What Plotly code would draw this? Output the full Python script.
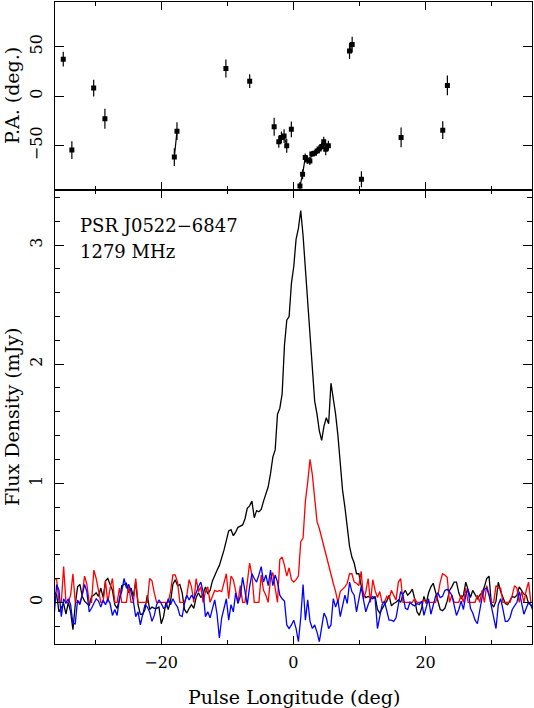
import plotly.graph_objects as go

# ---------------- data ----------------
LON0 = -36.15      # longitude of first profile bin (deg)
LON_STEP = 0.3516  # bin width (deg)

total_I = [
    0.09, 0.06, -0.08, -0.05, -0.01, -0.10, 0.00, -0.08, -0.23, -0.02,
    0.13, 0.15, 0.05, 0.01, -0.01, -0.03, 0.05, 0.06, 0.08, 0.05,
    0.12, 0.04, 0.18, 0.20, 0.15, 0.10, -0.02, -0.05, 0.02, 0.14,
    0.15, 0.16, 0.08, 0.12, 0.05, 0.17, -0.02, -0.10, -0.10, -0.06,
    0.06, -0.06, -0.04, -0.05, -0.05, -0.04, -0.18, -0.12, 0.00, -0.06,
    0.01, 0.15, 0.19, 0.14, 0.15, 0.08, -0.06, -0.09, -0.05, -0.02,
    -0.05, 0.04, 0.08, 0.04, 0.07,
    0.13, 0.07, 0.10, 0.18, 0.23, 0.27, 0.31, 0.37, 0.44, 0.52,
    0.60, 0.61, 0.56, 0.59, 0.63, 0.64, 0.65, 0.70, 0.79, 0.81,
    0.85, 0.71, 0.77, 0.76, 0.78, 0.85, 0.91, 0.97, 1.08, 1.22,
    1.28, 1.58, 1.63, 1.75, 2.16, 2.37, 2.40, 2.68, 2.82, 3.05,
    3.14, 3.29, 3.08, 2.80, 2.45, 2.22, 1.90, 1.69, 1.58, 1.44,
    1.36, 1.48, 1.55, 1.50, 1.84, 1.71, 1.58, 1.40, 1.16, 0.94,
    0.80, 0.65, 0.47, 0.38, 0.33, 0.24, 0.24, 0.14, 0.07, 0.04,
    0.05, 0.04, 0.03, 0.05,
    -0.06, -0.09, -0.05, -0.02, 0.01, 0.06, -0.03, -0.01, 0.00, 0.02,
    0.00, 0.07, 0.10, 0.06, 0.08, 0.11, 0.03, -0.08, -0.11, -0.05,
    0.05, -0.01, 0.08, 0.13, 0.16, 0.08, 0.01, -0.06, -0.07, -0.05,
    0.01, 0.10, 0.13, 0.17, 0.17, 0.08, 0.03, 0.06, 0.17, 0.11,
    0.04, 0.10, 0.06, 0.03, 0.06, 0.08, 0.13, 0.20, 0.22, -0.01,
    -0.04, 0.01, 0.17, 0.09, 0.04, -0.01, -0.02, 0.02, 0.05, 0.04,
    0.06, 0.13, 0.10, 0.07, 0.06, -0.01, -0.02, -0.06,
]

linear_L = [
    0.20, 0.19, 0.00, 0.00, 0.30, 0.00, 0.00, 0.06, 0.24, 0.00,
    0.00, 0.00, 0.06, 0.22, 0.15, 0.00, 0.00, 0.27, 0.20, 0.10,
    0.00, 0.00, 0.18, 0.00, 0.12, 0.20, 0.00, 0.00, 0.12, 0.00,
    0.00, 0.00, 0.14, 0.00, 0.00, 0.20, 0.00, 0.00, 0.00, 0.00,
    0.00, 0.20, 0.18, 0.08, 0.00, 0.00, 0.00, 0.00, 0.00, 0.00,
    0.09, 0.23, 0.23, 0.17, 0.00, 0.00, 0.00, 0.06, 0.19, 0.13,
    0.00, 0.20, 0.09, 0.13, 0.00,
    0.09, 0.13, 0.00, 0.06, 0.10, 0.09, 0.10, 0.09, 0.17, 0.24,
    0.03, 0.22, 0.19, 0.09, 0.00, 0.14, 0.00, 0.00, 0.17, 0.33,
    0.23, 0.00, 0.00, 0.00, 0.23, 0.10, 0.06, 0.00, 0.20, 0.25,
    0.12, 0.00, 0.36, 0.38, 0.31, 0.22, 0.29, 0.19, 0.17, 0.19,
    0.22, 0.51, 0.54, 0.85, 1.01, 1.20, 1.07, 0.85, 0.68, 0.62,
    0.54, 0.47, 0.40, 0.31, 0.23, 0.16, 0.09, 0.00, 0.09, 0.11,
    0.13, 0.16, 0.24, 0.24, 0.17, 0.16, 0.14, 0.26, 0.03, 0.09,
    0.20, 0.00, 0.19, 0.10,
    0.04, 0.09, 0.00, 0.00, 0.05, 0.03, 0.10, 0.06, 0.02, 0.17,
    0.20, 0.00, 0.00, 0.00, 0.00, 0.00, 0.03, 0.00, 0.00, 0.00,
    0.02, 0.00, 0.00, 0.00, 0.00, 0.00, 0.06, 0.17, 0.24, 0.23,
    0.21, 0.00, 0.06, 0.00, 0.00, 0.00, 0.06, 0.00, 0.12, 0.00,
    0.00, 0.00, 0.00, 0.06, 0.00, 0.10, 0.00, 0.14, 0.06, 0.00,
    0.00, 0.14, 0.12, 0.12, 0.00, 0.00, 0.00, 0.00, 0.06, 0.14,
    0.12, 0.00, 0.09, 0.00, 0.10, 0.17, 0.00, 0.00,
]

circular_V = [
    -0.09, 0.15, 0.10, -0.12, 0.03, -0.01, 0.03, -0.02, -0.18, -0.18,
    0.02, -0.02, 0.06, 0.15, 0.09, -0.08, -0.05, -0.01, 0.03, 0.01,
    -0.04, 0.02, -0.02, 0.03, -0.01, -0.11, -0.06, -0.11, 0.03, 0.09,
    0.20, 0.12, 0.15, 0.09, 0.01, -0.12, -0.08, -0.19, -0.11, -0.02,
    -0.04, -0.08, -0.16, -0.11, -0.02, 0.02, -0.01, -0.05, -0.04, 0.03,
    -0.02, 0.03, -0.01, -0.04, -0.11, -0.12, -0.01, 0.06, 0.02, 0.06,
    0.03, 0.09, 0.13, 0.17, 0.09,
    -0.12, -0.08, -0.13, -0.05, 0.02, -0.10, -0.30, -0.13, -0.05, 0.03,
    -0.15, -0.02, -0.08, 0.08, -0.01, 0.05, 0.21, 0.09, -0.02, 0.13,
    0.24, 0.20, 0.17, 0.23, 0.30, 0.17, 0.23, 0.14, 0.27, 0.14,
    0.23, 0.17, 0.06, 0.03, 0.01, -0.19, -0.22, -0.19, -0.15, -0.22,
    -0.33, -0.13, 0.15, -0.15, 0.02, -0.16, -0.22, -0.19, -0.25, -0.33,
    -0.19, -0.09, -0.13, -0.22, -0.19, 0.03, -0.04, 0.02, -0.12, -0.02,
    0.06, -0.01, 0.17, 0.09, 0.06, -0.08, 0.02, 0.13, 0.02, -0.08,
    -0.02, 0.03, 0.05, 0.03,
    -0.22, -0.11, -0.02, 0.01, -0.06, -0.15, -0.15, -0.16, -0.13, -0.02,
    0.09, 0.06, -0.05, -0.06, 0.00, -0.02, -0.03, -0.01, -0.02, 0.01,
    -0.11, -0.04, 0.03, -0.10, -0.03, 0.05, 0.08, 0.04, 0.05, 0.10,
    0.11, 0.09, 0.06, -0.03, -0.11, -0.06, 0.01, -0.06, 0.06, 0.11,
    -0.05, -0.09, -0.15, -0.18, -0.05, 0.04, 0.11, 0.12, 0.06, -0.03,
    -0.14, -0.22, -0.02, 0.03, -0.06, -0.16, -0.16, -0.13, -0.06, -0.03,
    0.00, 0.09, -0.01, -0.10, -0.05, 0.00, -0.02, -0.08,
]

pa_lon = [-34.8, -33.5, -30.2, -28.5, -18.0, -17.6, -10.2, -6.6,
          -2.9, -2.2, -1.8, -1.4, -1.0, -0.3,
          1.0, 1.4, 1.8, 2.1, 2.5, 2.8, 3.2, 3.6, 3.9, 4.3, 4.6, 4.9, 5.3,
          8.5, 8.9, 10.3, 16.3, 22.6, 23.3]
pa_deg = [37.3, -54.4, 8.1, -22.8, -61.5, -35.3, 27.9, 15.1,
          -30.9, -46.0, -41.6, -40.3, -50.1, -33.5,
          -90.7, -78.9, -61.8, -64.5, -65.5, -58.4, -57.7, -55.4, -53.4, -50.7, -46.0, -53.7, -50.1,
          45.6, 52.0, -83.9, -41.6, -34.3, 10.8]
pa_err = [7.5, 9, 8.5, 10, 9, 9, 9, 7,
          9, 6, 6, 7, 7, 8,
          4, 5, 4, 4, 4, 3, 3, 3, 4, 4, 5, 6, 5,
          8, 8, 8, 10, 9, 10]

# ---------------- build ----------------
lon = [LON0 + LON_STEP * i for i in range(len(total_I))]

# connect only PA points in adjacent bins
pa_lx, pa_ly = [], []
for k in range(len(pa_lon)):
    if k > 0 and pa_lon[k] - pa_lon[k - 1] > 0.5:
        pa_lx.append(None)
        pa_ly.append(None)
    pa_lx.append(pa_lon[k])
    pa_ly.append(pa_deg[k])

FONT = "DejaVu Serif"
W, H = 534, 708
ML, MR, MT, MB = 55, 2, 2, 64
PW, PH = W - ML - MR, H - MT - MB

def px_x(p):
    return (p - ML) / PW

def px_y(p):
    return (H - MB - p) / PH

fig = go.Figure()

fig.add_trace(go.Scatter(x=lon, y=total_I, mode="lines",
                         line=dict(color="black", width=1.3), xaxis="x", yaxis="y"))
fig.add_trace(go.Scatter(x=lon, y=linear_L, mode="lines",
                         line=dict(color="#ff0000", width=1.3), xaxis="x", yaxis="y"))
fig.add_trace(go.Scatter(x=lon, y=circular_V, mode="lines",
                         line=dict(color="#0000ff", width=1.3), xaxis="x", yaxis="y"))

fig.add_trace(go.Scatter(x=pa_lx, y=pa_ly, mode="lines",
                         line=dict(color="black", width=1.2), connectgaps=False,
                         xaxis="x2", yaxis="y2"))
fig.add_trace(go.Scatter(x=pa_lon, y=pa_deg, mode="markers",
                         marker=dict(symbol="square", size=5, color="black"),
                         error_y=dict(type="data", array=pa_err, width=0,
                                      thickness=1.2, color="black"),
                         xaxis="x2", yaxis="y2"))

SPLIT = (H - MB - 190.3) / PH
axis_common = dict(showline=True, linecolor="black", linewidth=1, mirror="allticks",
                   ticks="inside", tickcolor="black", tickwidth=1,
                   showgrid=False, zeroline=False, automargin=False)

fig.update_layout(
    width=W, height=H,
    margin=dict(l=ML, r=MR, t=MT, b=MB),
    paper_bgcolor="white", plot_bgcolor="white",
    showlegend=False,
    font=dict(family=FONT, color="black", size=16),
    xaxis=dict(domain=[0, 1], anchor="y", range=[-36.05, 36.1],
               tick0=0, dtick=20, ticklen=8, ticklabelstandoff=4,
               minor=dict(dtick=10, ticklen=4, ticks="inside", tickcolor="black"),
               tickfont=dict(family=FONT, size=16),
               **axis_common),
    yaxis=dict(domain=[0, SPLIT], anchor="x", range=[-0.35, 3.46],
               tick0=0, dtick=1, ticklen=9, tickangle=-90, ticklabelstandoff=6,
               minor=dict(dtick=0.2, ticklen=5, ticks="inside", tickcolor="black"),
               tickfont=dict(family=FONT, size=16),
               **axis_common),
    xaxis2=dict(domain=[0, 1], anchor="y2", matches="x", range=[-36.05, 36.1],
                tick0=0, dtick=20, ticklen=8, showticklabels=False,
                minor=dict(dtick=10, ticklen=4, ticks="inside", tickcolor="black"),
                **axis_common),
    yaxis2=dict(domain=[SPLIT, 1], anchor="x2", range=[-95, 95],
                tickvals=[-50, 0, 50], ticklen=9, tickangle=-90, ticklabelstandoff=6,
                tickfont=dict(family=FONT, size=16),
                **axis_common),
    annotations=[
        dict(text="Pulse Longitude (deg)", xref="paper", yref="paper",
             x=px_x(293.6), y=px_y(697), xanchor="center", yanchor="middle",
             showarrow=False, font=dict(family=FONT, size=19)),
        dict(text="Flux Density (mJy)", xref="paper", yref="paper", textangle=-90,
             x=px_x(12), y=px_y(417), xanchor="center", yanchor="middle",
             showarrow=False, font=dict(family=FONT, size=19)),
        dict(text="P.A. (deg.)", xref="paper", yref="paper", textangle=-90,
             x=px_x(12), y=px_y(96), xanchor="center", yanchor="middle",
             showarrow=False, font=dict(family=FONT, size=19)),
        dict(text="PSR J0522\u22126847", xref="paper", yref="paper",
             x=px_x(78), y=px_y(225), xanchor="left", yanchor="middle",
             showarrow=False, font=dict(family=FONT, size=18)),
        dict(text="1279 MHz", xref="paper", yref="paper",
             x=px_x(78), y=px_y(251.5), xanchor="left", yanchor="middle",
             showarrow=False, font=dict(family=FONT, size=18)),
    ],
)

fig.write_html("out.html",
               config={"displayModeBar": False},
               post_script="document.body.style.margin='0px';"
                           "document.body.style.overflow='hidden';")
